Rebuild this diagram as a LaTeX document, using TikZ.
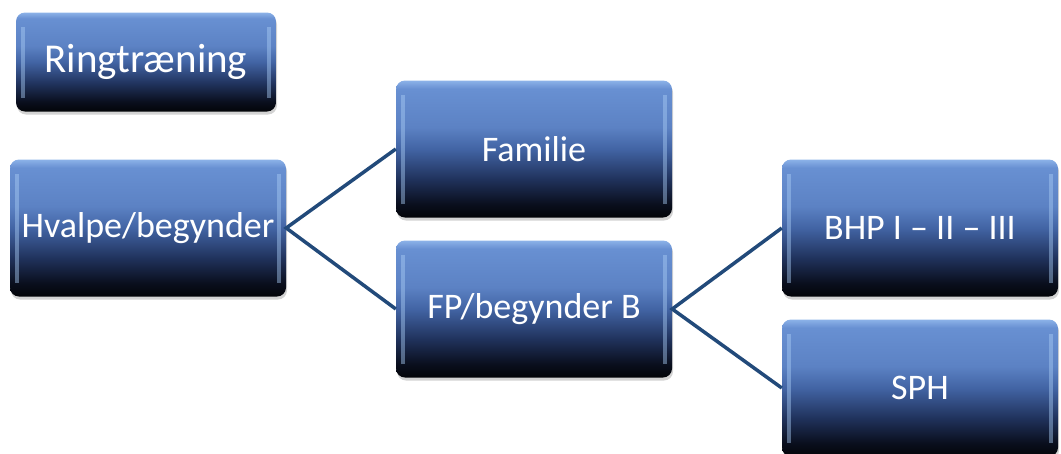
\documentclass[tikz,border=0pt]{standalone}
\usepackage{fontspec}
\setmainfont{Carlito}
\usetikzlibrary{shadows}
\definecolor{linie}{RGB}{34,74,122}
\definecolor{glans}{RGB}{170,205,245}
\pgfdeclareverticalshading{glas}{100bp}{color(0bp)=(rgb,255:red,3;green,4;blue,8);
  color(25bp)=(rgb,255:red,3;green,4;blue,8);
  color(30bp)=(rgb,255:red,10;green,15;blue,30);
  color(39bp)=(rgb,255:red,32;green,50;blue,92);
  color(50bp)=(rgb,255:red,66;green,100;blue,164);
  color(58bp)=(rgb,255:red,92;green,130;blue,196);
  color(72bp)=(rgb,255:red,104;green,144;blue,210);
  color(75bp)=(rgb,255:red,140;green,178;blue,232);
  color(100bp)=(rgb,255:red,140;green,178;blue,232)}
\begin{document}
\begin{tikzpicture} [x = 1pt, y = -1pt,
    boks/.style = {rounded corners=9pt, shading=glas, text=white,
        drop shadow={opacity=0.35, shadow xshift=1pt, shadow yshift=-3pt},
        font=\fontsize{36}{40}\selectfont, inner sep=0pt,
        minimum width=276pt, minimum height=137pt,
        path picture={
            \fill[glans, opacity=0.45, sharp corners] ([xshift=5pt, yshift=-14pt]path picture bounding box.north west)
                rectangle ([xshift=9pt, yshift=14pt]path picture bounding box.south west);
            \fill[glans, opacity=0.45, sharp corners] ([xshift=-9pt, yshift=-14pt]path picture bounding box.north east)
                rectangle ([xshift=-5pt, yshift=14pt]path picture bounding box.south east);
        }},
    forbind/.style = {draw=linie, line width=3.5pt}]
    \useasboundingbox (0, 0) rectangle (1061, 453);

    % Overskrift
    \node[boks, minimum width=260pt, minimum height=99pt,
          font=\fontsize{41}{44}\selectfont] (ring) at (146, 62) {\raisebox{5pt}{Ringtræning}};

    % Hold
    \node[boks] (hvalpe)  at (148, 228) {Hvalpe/begynder};
    \node[boks] (familie) at (534, 149) {Familie};
    \node[boks] (fpb)     at (534, 309) {FP/begynder B};
    \node[boks] (bhp)     at (920, 228) {BHP I – II – III};
    \node[boks] (sph)     at (920, 388) {SPH};

    % Forbindelser
    \draw[forbind] (familie.west) -- (hvalpe.east) -- (fpb.west);
    \draw[forbind] (bhp.west) -- (fpb.east) -- (sph.west);
\end{tikzpicture}
\end{document}
